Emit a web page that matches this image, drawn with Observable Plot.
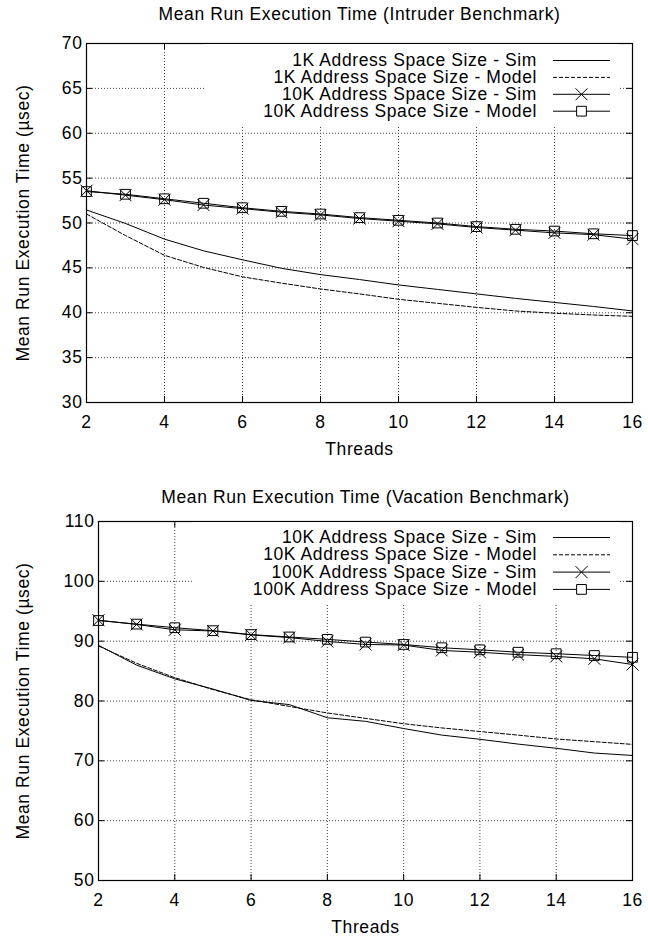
<!DOCTYPE html>
<html>
<head>
<meta charset="utf-8">
<script src="https://cdn.jsdelivr.net/npm/d3@7"></script>
<script src="https://cdn.jsdelivr.net/npm/@observablehq/plot@0.6"></script>
<style>
  body { margin: 0; background: white; }
  #charts svg { display: block; }
</style>
</head>
<body>
<div id="charts"></div>
<script>
// ---------- data ----------
const threads = [2, 3, 4, 5, 6, 7, 8, 9, 10, 11, 12, 13, 14, 15, 16];
const xTicks = [2, 4, 6, 8, 10, 12, 14, 16];

const intruderTitle = "Mean Run Execution Time (Intruder Benchmark)";
const intruderYTicks = [30, 35, 40, 45, 50, 55, 60, 65, 70];
const intruderSeries = [
  "1K Address Space Size - Sim",
  "1K Address Space Size - Model",
  "10K Address Space Size - Sim",
  "10K Address Space Size - Model"
];
const intruder1kSim   = [51.45, 49.95, 48.2, 46.9, 45.9, 44.95, 44.25, 43.7, 43.1, 42.6, 42.1, 41.6, 41.15, 40.7, 40.2];
const intruder1kModel = [51.0, 48.6, 46.4, 45.05, 44.0, 43.3, 42.65, 42.1, 41.5, 41.05, 40.6, 40.2, 39.95, 39.75, 39.6];
const intruder10kSim  = [53.6, 53.1, 52.6, 52.0, 51.6, 51.2, 50.9, 50.5, 50.2, 49.9, 49.5, 49.2, 48.9, 48.7, 48.2];
const intruder10kModel= [53.5, 53.2, 52.7, 52.2, 51.7, 51.3, 51.0, 50.6, 50.3, 50.0, 49.6, 49.3, 49.1, 48.8, 48.6];

const vacationTitle = "Mean Run Execution Time (Vacation Benchmark)";
const vacationYTicks = [50, 60, 70, 80, 90, 100, 110];
const vacationSeries = [
  "10K Address Space Size - Sim",
  "10K Address Space Size - Model",
  "100K Address Space Size - Sim",
  "100K Address Space Size - Model"
];
const vacation10kSim    = [89.3, 86.0, 83.7, 82.0, 80.1, 79.4, 77.2, 76.6, 75.4, 74.3, 73.6, 72.8, 72.1, 71.3, 70.9];
const vacation10kModel  = [89.2, 86.3, 83.9, 81.9, 80.2, 79.1, 78.0, 77.1, 76.2, 75.5, 74.9, 74.3, 73.65, 73.2, 72.75];
const vacation100kSim   = [93.5, 92.8, 91.9, 91.7, 91.05, 90.6, 89.95, 89.45, 89.35, 88.45, 88.15, 87.75, 87.45, 87.05, 86.1];
const vacation100kModel = [93.45, 92.85, 92.25, 91.75, 91.1, 90.7, 90.3, 89.85, 89.45, 88.9, 88.55, 88.15, 87.9, 87.6, 87.3];

const xLabel = "Threads";
const yLabel = "Mean Run Execution Time (\u00b5sec)";

// ---------- drawing ----------
const FONT = "'Liberation Sans', Arial, Helvetica, sans-serif";
const FS = 17.5;
const R = 5.5;
const styles = [
  {dash: null, symbol: null},
  {dash: "4,2", symbol: null},
  {dash: null, symbol: "times"},
  {dash: null, symbol: "square"}
];

function toTable(values) { return threads.map((t, i) => ({t, v: values[i]})); }

function makeChart({title, yTicks, series, values, width, height, mt, mb, ml, mr, titleDy, yLabelDx, legend}) {
  const plotW = width - ml - mr;
  const plotH = height - mt - mb;
  const marks = [
    Plot.gridX(xTicks, {stroke: "#444", strokeOpacity: 1, strokeDasharray: "1,2"}),
    Plot.gridY(yTicks, {stroke: "#444", strokeOpacity: 1, strokeDasharray: "1,2"})
  ];
  values.forEach((vals, i) => {
    const data = toTable(vals);
    marks.push(Plot.line(data, {x: "t", y: "v", stroke: "black", strokeWidth: 1, strokeDasharray: styles[i].dash}));
    if (styles[i].symbol) {
      marks.push(Plot.dot(data, {x: "t", y: "v", symbol: () => styles[i].symbol, r: R, fill: "none", stroke: "black", strokeWidth: 1}));
    }
  });
  marks.push(
    Plot.tickX(xTicks, {x: d => d, stroke: "black", insetTop: plotH - 6}),
    Plot.tickX(xTicks, {x: d => d, stroke: "black", insetBottom: plotH - 6}),
    Plot.tickY(yTicks, {y: d => d, stroke: "black", insetRight: plotW - 6}),
    Plot.tickY(yTicks, {y: d => d, stroke: "black", insetLeft: plotW - 6}),
    Plot.axisX(xTicks, {tickSize: 0, tickPadding: 13, fontSize: FS, label: null}),
    Plot.axisY(yTicks, {tickSize: 0, tickPadding: 4, fontSize: FS, label: null}),
    Plot.frame({stroke: "black", strokeWidth: 1.2}),
    Plot.text([title], {frameAnchor: "top", dy: -titleDy, lineAnchor: "middle", textAnchor: "middle", fontSize: FS, fill: "black"}),
    Plot.text([xLabel], {frameAnchor: "bottom", dy: 47, lineAnchor: "middle", textAnchor: "middle", fontSize: FS, fill: "black"}),
    Plot.text([yLabel], {frameAnchor: "left", dx: -yLabelDx, rotate: -90, lineAnchor: "middle", textAnchor: "middle", fontSize: FS, fill: "black"})
  );
  const svg = Plot.plot({
    width, height,
    marginTop: mt, marginBottom: mb, marginLeft: ml, marginRight: mr,
    x: {domain: [2, 16]},
    y: {domain: [yTicks[0], yTicks[yTicks.length - 1]]},
    style: {fontFamily: FONT, fontSize: FS + "px", letterSpacing: "0.6px", background: "white", color: "black"},
    marks
  });

  // legend (key box)
  const g = d3.select(svg).append("g").attr("font-family", FONT).attr("font-size", FS);
  g.append("rect")
    .attr("x", legend.boxX1).attr("y", mt + 1)
    .attr("width", legend.boxX2 - legend.boxX1).attr("height", legend.boxY2 - mt - 1)
    .attr("fill", "white");
  series.forEach((name, i) => {
    const y = mt + legend.first + i * legend.step;
    g.append("text").attr("x", legend.textRight).attr("y", y).attr("dy", "0.35em")
      .attr("text-anchor", "end").attr("fill", "black").text(name);
    g.append("line").attr("x1", legend.l1).attr("x2", legend.l2).attr("y1", y + 0.5).attr("y2", y + 0.5)
      .attr("stroke", "black").attr("stroke-width", 1)
      .attr("stroke-dasharray", styles[i].dash);
    if (styles[i].symbol) {
      const sym = styles[i].symbol === "times" ? d3.symbolTimes : d3.symbolSquare;
      g.append("path").attr("d", d3.symbol(sym, Math.PI * R * R)())
        .attr("transform", `translate(${(legend.l1 + legend.l2) / 2},${y + 0.5})`)
        .attr("fill", styles[i].symbol === "square" ? "white" : "none")
        .attr("stroke", "black").attr("stroke-width", 1);
    }
  });
  return svg;
}

const container = document.getElementById("charts");
container.appendChild(makeChart({
  title: intruderTitle, yTicks: intruderYTicks, series: intruderSeries,
  values: [intruder1kSim, intruder1kModel, intruder10kSim, intruder10kModel],
  width: 648, height: 469, mt: 43, mb: 67, ml: 86, mr: 16, titleDy: 29, yLabelDx: 63,
  legend: {boxX1: 204, boxX2: 618, boxY2: 127, first: 17, step: 16.9, textRight: 537, l1: 553, l2: 610}
}));
container.appendChild(makeChart({
  title: vacationTitle, yTicks: vacationYTicks, series: vacationSeries,
  values: [vacation10kSim, vacation10kModel, vacation100kSim, vacation100kModel],
  width: 648, height: 469, mt: 52, mb: 58, ml: 98, mr: 16, titleDy: 24, yLabelDx: 75,
  legend: {boxX1: 192, boxX2: 620, boxY2: 134, first: 16, step: 17.3, textRight: 537, l1: 553, l2: 610}
}));
</script>
</body>
</html>
